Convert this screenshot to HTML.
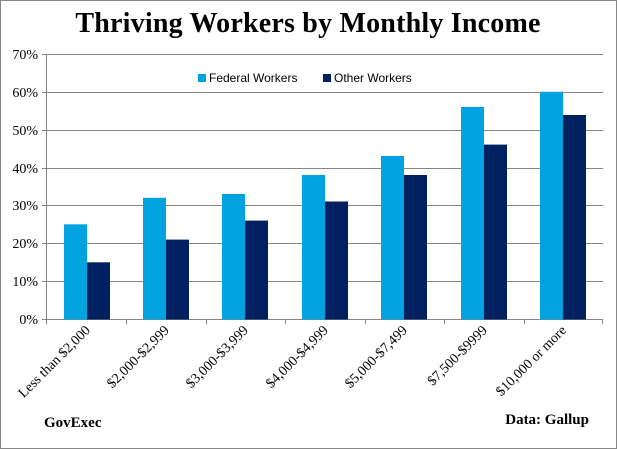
<!DOCTYPE html>
<html><head><style>body{margin:0;background:#fff}svg{display:block}</style></head><body>
<svg width="617" height="449" xmlns="http://www.w3.org/2000/svg">
<rect x="0.5" y="0.5" width="616" height="448" fill="#fff" stroke="#868686"/>
<text x="308" y="32" text-anchor="middle" font-family="Liberation Serif" font-weight="bold" font-size="28" letter-spacing="0.2" fill="#000">Thriving Workers by Monthly Income</text>
<g stroke="#868686" stroke-width="1">
<line x1="46" y1="54.5" x2="603" y2="54.5"/>
<line x1="46" y1="92.5" x2="603" y2="92.5"/>
<line x1="46" y1="130.5" x2="603" y2="130.5"/>
<line x1="46" y1="168.5" x2="603" y2="168.5"/>
<line x1="46" y1="205.5" x2="603" y2="205.5"/>
<line x1="46" y1="243.5" x2="603" y2="243.5"/>
<line x1="46" y1="281.5" x2="603" y2="281.5"/>
<line x1="46" y1="319.5" x2="603" y2="319.5"/>
<line x1="46.5" y1="54" x2="46.5" y2="324"/>
<line x1="126.5" y1="319" x2="126.5" y2="324"/><line x1="206.5" y1="319" x2="206.5" y2="324"/><line x1="285.5" y1="319" x2="285.5" y2="324"/><line x1="365.5" y1="319" x2="365.5" y2="324"/><line x1="444.5" y1="319" x2="444.5" y2="324"/><line x1="524.5" y1="319" x2="524.5" y2="324"/><line x1="602.5" y1="319" x2="602.5" y2="324"/>
<line x1="42" y1="54.5" x2="46" y2="54.5"/><line x1="42" y1="92.5" x2="46" y2="92.5"/><line x1="42" y1="130.5" x2="46" y2="130.5"/><line x1="42" y1="168.5" x2="46" y2="168.5"/><line x1="42" y1="205.5" x2="46" y2="205.5"/><line x1="42" y1="243.5" x2="46" y2="243.5"/><line x1="42" y1="281.5" x2="46" y2="281.5"/><line x1="42" y1="319.5" x2="46" y2="319.5"/>
</g>
<g font-family="Liberation Serif" font-size="14" fill="#000" text-anchor="end">
<text x="38" y="59">70%</text><text x="38" y="97">60%</text><text x="38" y="135">50%</text><text x="38" y="173">40%</text><text x="38" y="210">30%</text><text x="38" y="248">20%</text><text x="38" y="286">10%</text><text x="38" y="324">0%</text>
</g>
<g>
<rect x="64" y="224.3" width="23" height="95.2" fill="#00a3e0"/><rect x="87" y="262.3" width="23" height="57.2" fill="#002060"/>
<rect x="143" y="197.8" width="23" height="121.7" fill="#00a3e0"/><rect x="166" y="239.6" width="23" height="79.9" fill="#002060"/>
<rect x="222" y="194" width="23" height="125.5" fill="#00a3e0"/><rect x="245" y="220.6" width="23" height="98.9" fill="#002060"/>
<rect x="302" y="175" width="23" height="144.5" fill="#00a3e0"/><rect x="325" y="201.5" width="23" height="118" fill="#002060"/>
<rect x="381" y="156" width="23" height="163.5" fill="#00a3e0"/><rect x="404" y="175" width="23" height="144.5" fill="#002060"/>
<rect x="461" y="107" width="23" height="212.5" fill="#00a3e0"/><rect x="484" y="144.6" width="23" height="174.9" fill="#002060"/>
<rect x="540" y="91.8" width="23" height="227.7" fill="#00a3e0"/><rect x="563" y="115" width="23" height="204.5" fill="#002060"/>
</g>
<rect x="198" y="74" width="8" height="8" fill="#00a3e0"/>
<text x="209" y="82" font-family="Liberation Sans" font-size="12">Federal Workers</text>
<rect x="323" y="74" width="8" height="8" fill="#002060"/>
<text x="334" y="82" font-family="Liberation Sans" font-size="12">Other Workers</text>
<g font-family="Liberation Serif" font-size="14" fill="#000" text-anchor="end">
<text transform="translate(91,331) rotate(-45)">Less than $2,000</text>
<text transform="translate(170,331) rotate(-45)">$2,000-$2,999</text>
<text transform="translate(249,331) rotate(-45)">$3,000-$3,999</text>
<text transform="translate(329,331) rotate(-45)">$4,000-$4,999</text>
<text transform="translate(408,331) rotate(-45)">$5,000-$7,499</text>
<text transform="translate(488,331) rotate(-45)">$7,500-$9999</text>
<text transform="translate(567,331) rotate(-45)">$10,000 or more</text>
</g>
<text x="44" y="427" font-family="Liberation Serif" font-weight="bold" font-size="15">GovExec</text>
<text x="589" y="424" text-anchor="end" font-family="Liberation Serif" font-weight="bold" font-size="15">Data: Gallup</text>
</svg>
</body></html>
